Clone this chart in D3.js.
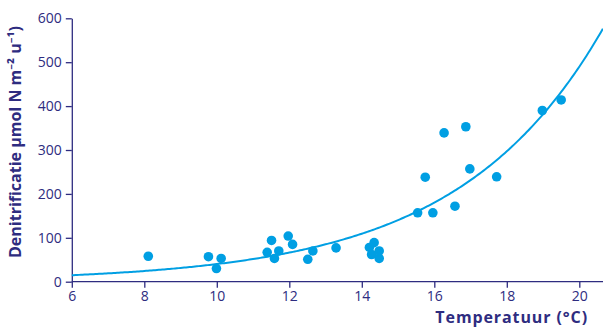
<!DOCTYPE html>
<html><head><meta charset="utf-8">
<script src="https://cdn.jsdelivr.net/npm/d3@7/dist/d3.min.js"></script>
<style>
body{margin:0;background:#fff;}
svg{display:block;}
</style></head>
<body>
<svg id="c" width="603" height="329"></svg>
<script>
// Data
const temperature = [8.11, 9.77, 10.12, 9.99, 11.39, 11.51, 11.59, 11.71, 11.97, 12.09, 12.65, 12.51, 13.29,
  14.21, 14.34, 14.48, 14.27, 14.48, 15.54, 15.96, 15.75, 16.27, 16.87, 16.57, 16.98, 17.72, 18.98, 19.50];
const denitrification = [58, 57, 53, 30, 67, 94, 53, 70, 104, 85, 70, 51, 77,
  78, 89, 70, 62, 53, 157, 157, 238, 339, 353, 172, 257, 239, 390, 414];
// Exponential trend line y = trendA * exp(trendB * T)
const trendA = 3.3;
const trendB = 0.250;
const xTicks = [6, 8, 10, 12, 14, 16, 18, 20];
const yTicks = [0, 100, 200, 300, 400, 500, 600];
const xTitle = "Temperatuur (°C)";
const yTitle = "Denitrificatie μmol N m\u207B\u00B2 u\u207B\u00B9)";

const navy = "#2e2c80", blue = "#009fe3";
const svg = d3.select("#c");
const x = d3.scaleLinear().domain([6, 20]).range([71.8, 579.3]);
const y = d3.scaleLinear().domain([0, 600]).range([281.7, 18.3]);
const xMax = x.invert(603);

const font = "'Open Sans', 'Noto Sans', sans-serif";

// axes
const gx = svg.append("g").attr("transform", `translate(0,${y(0)})`)
  .call(d3.axisBottom(x).tickValues(xTicks).tickSize(6).tickPadding(3).tickSizeOuter(0));
gx.select(".domain").attr("d", `M${x(6)},0H603`);
const gy = svg.append("g").attr("transform", `translate(${x(6)},0)`)
  .call(d3.axisLeft(y).tickValues(yTicks).tickSize(6).tickPadding(4).tickSizeOuter(0));
[gx, gy].forEach(g => {
  g.selectAll(".domain").attr("stroke", navy).attr("stroke-width", 1.3);
  g.selectAll(".tick line").attr("stroke", navy).attr("stroke-width", 1.3);
  g.selectAll(".tick text").attr("fill", navy).style("font-family", font).style("font-size", "14px");
});

// trend line
const tr = d3.range(6, xMax + 0.01, 0.05).map(t => [t, trendA * Math.exp(trendB * t)]);
svg.append("path").datum(tr)
  .attr("fill", "none").attr("stroke", blue).attr("stroke-width", 2)
  .attr("d", d3.line().x(d => x(d[0])).y(d => y(d[1])));

// points
svg.append("g").selectAll("circle").data(temperature.map((t, i) => [t, denitrification[i]]))
  .join("circle").attr("cx", d => x(d[0])).attr("cy", d => y(d[1])).attr("r", 4.8).attr("fill", blue);

// titles
svg.append("text").attr("x", 588).attr("y", 323).attr("text-anchor", "end")
  .attr("fill", navy).style("font-family", font).style("font-weight", "bold").style("font-size", "16px")
  .style("letter-spacing", "0.9px").text(xTitle);
svg.append("text").attr("transform", "translate(21,258) rotate(-90)")
  .attr("fill", navy).style("font-family", font).style("font-weight", "bold").style("font-size", "16px")
  .text(yTitle);
</script>
</body></html>
